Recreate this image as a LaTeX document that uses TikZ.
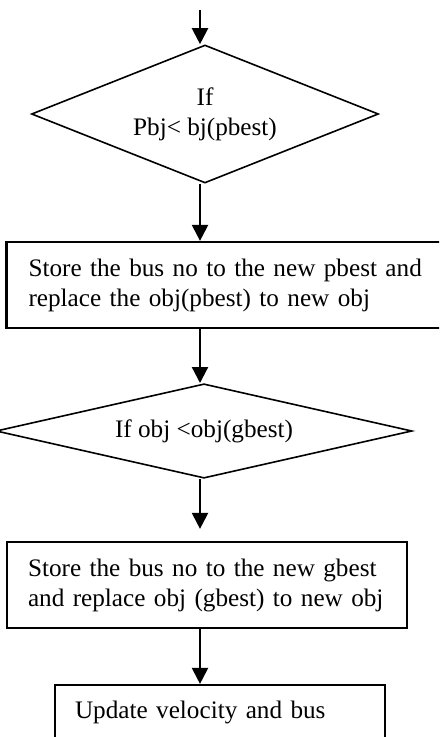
\documentclass[tikz,border=0pt]{standalone}
\usepackage{fontspec}
\setmainfont{Liberation Serif}
\usetikzlibrary{shapes.geometric,arrows.meta}

\tikzset{
  decision/.style={diamond, draw, line width=0.8pt, inner sep=0pt, aspect=2.5, align=center},
  procbox/.style={rectangle, draw, line width=1.1pt, align=left, inner xsep=11pt, inner ysep=0pt},
  flow/.style={-{Triangle[width=8pt,length=8pt]}, line width=1.1pt}
}

\begin{document}
\begin{tikzpicture}[x=0.5pt,y=-0.5pt,font=\fontsize{12.6}{15}\selectfont]
\useasboundingbox (0,0) rectangle (439,737);
\clip (0,0) rectangle (439,737);
\coordinate (start) at (200,10);
\node[decision, minimum width=173.5pt, minimum height=69pt] (d1) at (205,114) {If\\Pbj< bj(pbest)};
\node[procbox, text width=197pt, minimum height=43pt] (b1) at (225.5,285) {Store the bus no to the new pbest and\\replace the obj(pbest) to new obj};
\node[decision, minimum width=208pt, minimum height=41pt] (d2) at (204,431) {If obj <obj(gbest)};
\node[procbox, inner xsep=10.5pt, text width=179pt, minimum height=43pt] (b2) at (207,585) {Store the bus no to the new gbest\\and replace obj (gbest) to new obj};
\node[procbox, inner xsep=10pt, text width=145pt, minimum height=27pt] (b3) at (220,712) {Update velocity and bus};
% connectors
\draw[flow] (start) -- (start |- d1.north);
\draw[flow] (d1.south -| start) -- (start |- b1.north);
\draw[flow] (b1.south -| start) -- (start |- d2.north);
\draw[flow, shorten >=6pt] (d2.south -| start) -- (start |- b2.north);
\draw[flow] (b2.south -| start) -- (start |- b3.north);
\end{tikzpicture}
\end{document}
